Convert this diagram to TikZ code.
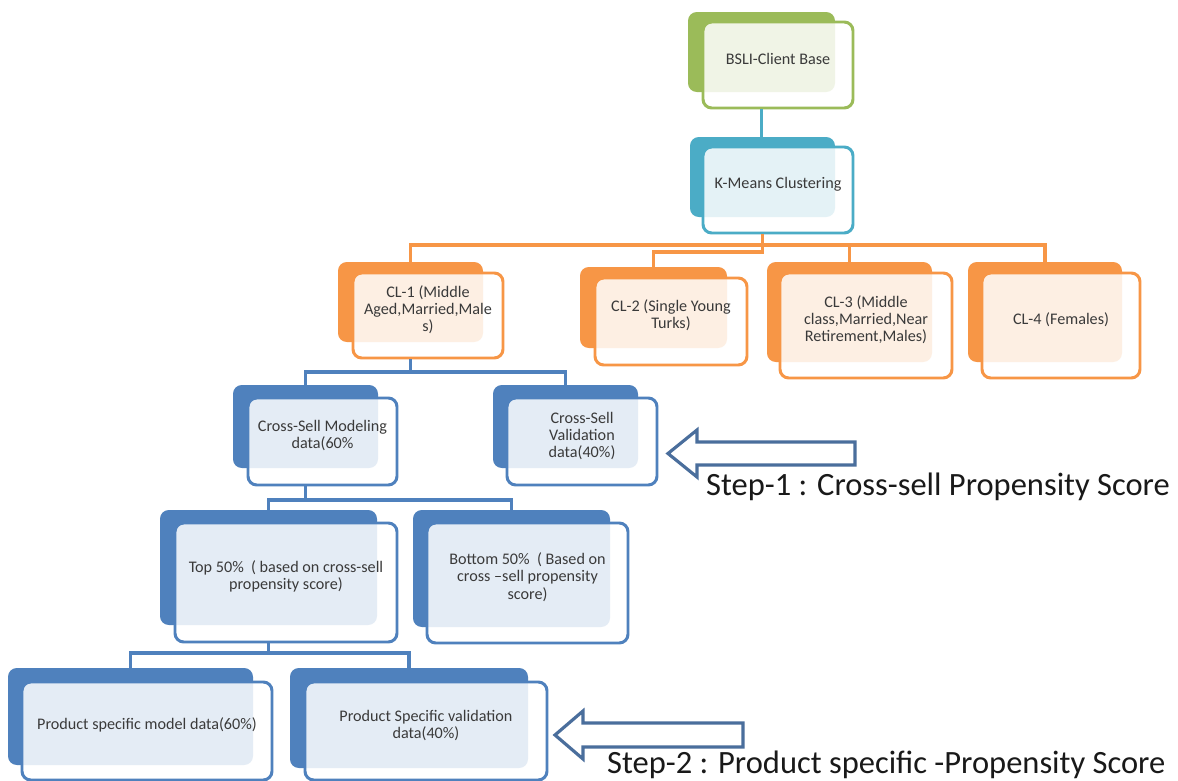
\documentclass[tikz,border=0pt]{standalone}
\usepackage{fontspec}
\setmainfont{Carlito}
\usepackage{tikz}
\usetikzlibrary{fit}
\definecolor{ogreen}{HTML}{9BBB59}
\definecolor{oteal}{HTML}{4BACC6}
\definecolor{oorange}{HTML}{F79646}
\definecolor{oblue}{HTML}{4F81BD}
\definecolor{arrblue}{HTML}{4A6E9C}
\definecolor{txtgray}{HTML}{3A3A3A}
\begin{document}
\begin{tikzpicture}[x=0.02cm,y=-0.02cm,
  back/.style={fill=#1,draw=none,rounded corners=5pt,inner sep=0pt},
  front/.style={draw=#1,line width=1.7pt,fill=white,fill opacity=0.85,text opacity=1,rounded corners=5pt,inner sep=0pt,align=center,text=txtgray,font=\fontsize{9.2}{9.8}\selectfont},
  link/.style={draw=#1,line width=2pt},
  steparrow/.style={draw=arrblue,line width=1.8pt,fill=white,line join=miter},
  steplab/.style={anchor=base west,text=black!90,font=\fontsize{18.5}{20}\selectfont}]
\path[use as bounding box,fill=white] (0,0) rectangle (1178,781);
% top of the tree
\node[back=ogreen,fit={(688,12) (835,92)}] (bslib) {};
\node[front=ogreen,fit={(703,22) (853,108)}] (bslif) {BSLI-Client Base};
\node[back=oteal,fit={(690,137) (835,217)}] (kmb) {};
\node[front=oteal,fit={(703,147) (853,233)}] (kmf) {K-Means Clustering};
% clusters
\node[back=oorange,fit={(338,262) (483,342)}] (cl1b) {};
\node[front=oorange,fit={(353,273) (503,358)}] (cl1f) {CL-1 (Middle\\Aged,Married,Male\\s)};
\node[back=oorange,fit={(580,267) (727,348)}] (cl2b) {};
\node[front=oorange,fit={(595,278) (747,365)}] (cl2f) {CL-2 (Single Young\\Turks)};
\node[back=oorange,fit={(767,262) (932,362)}] (cl3b) {};
\node[front=oorange,fit={(780,273) (952,378)}] (cl3f) {CL-3 (Middle\\class,Married,Near\\Retirement,Males)};
\node[back=oorange,fit={(968,262) (1122,362)}] (cl4b) {};
\node[front=oorange,fit={(982,273) (1140,378)}] (cl4f) {CL-4 (Females)};
% cross-sell split
\node[back=oblue,fit={(233,385) (378,468)}] (csmb) {};
\node[front=oblue,fit={(248,398) (397,485)}] (csmf) {Cross-Sell Modeling\\data(60\%};
\node[back=oblue,fit={(493,385) (638,468)}] (csvb) {};
\node[front=oblue,fit={(507,398) (657,485)}] (csvf) {Cross-Sell\\Validation\\data(40\%)};
\node[back=oblue,fit={(160,510) (377,625)}] (t50b) {};
\node[front=oblue,fit={(175,523) (397,642)}] (t50f) {Top 50\%\ \ ( based on cross-sell\\propensity score)};
\node[back=oblue,fit={(413,510) (610,627)}] (b50b) {};
\node[front=oblue,fit={(427,523) (628,643)}] (b50f) {Bottom 50\%\ \ ( Based on\\cross –sell propensity\\score)};
% product specific split
\node[back=oblue,fit={(8,668) (253,765)}] (psmb) {};
\node[front=oblue,fit={(22,682) (272,780)}] (psmf) {Product specific model data(60\%)};
\node[back=oblue,fit={(290,668) (528,768)}] (psvb) {};
\node[front=oblue,fit={(305,682) (547,780)}] (psvf) {Product Specific validation\\data(40\%)};
% connectors
\coordinate (obar) at (0,245);
\coordinate (obar2) at (0,252);
\coordinate (bbar1) at (0,372);
\coordinate (bbar2) at (0,500);
\coordinate (bbar3) at (0,653);
\draw[link=oteal] (bslib.center |- bslif.south) -- (bslib.center |- kmb.north);
\draw[link=oorange] (cl1b.north) -- (cl1b.north |- obar) -- (cl4b.north |- obar) -- (cl4b.north);
\draw[link=oorange] (cl3b.north |- obar) -- (cl3b.north);
\draw[link=oorange] (kmb.center |- kmf.south) -- (kmb.center |- obar2) -| (cl2b.north);
\draw[link=oblue] (cl1b.center |- cl1f.south) -- (cl1b.center |- bbar1);
\draw[link=oblue] (csmb.north) -- (csmb.north |- bbar1) -- (csvb.north |- bbar1) -- (csvb.north);
\draw[link=oblue] (csmb.center |- csmf.south) -- (csmb.center |- bbar2);
\draw[link=oblue] (t50b.north) -- (t50b.north |- bbar2) -- (b50b.north |- bbar2) -- (b50b.north);
\draw[link=oblue] (t50b.center |- t50f.south) -- (t50b.center |- bbar3);
\draw[link=oblue] (psmb.north) -- (psmb.north |- bbar3) -- (psvb.north |- bbar3) -- (psvb.north);
% step arrows
\draw[steparrow] (855,442) -- (697,442) -- (697,430) -- (668,453.5) -- (697,477) -- (697,465) -- (855,465) -- cycle;
\node[steplab] (step1) at (700,495) {Step-1 : Cross-sell Propensity Score};
\draw[steparrow] (743,723) -- (583,723) -- (583,711) -- (555,735) -- (583,759) -- (583,747) -- (743,747) -- cycle;
\node[steplab] (step2) at (601,773) {Step-2 : Product specific -Propensity Score};
\end{tikzpicture}
\end{document}
